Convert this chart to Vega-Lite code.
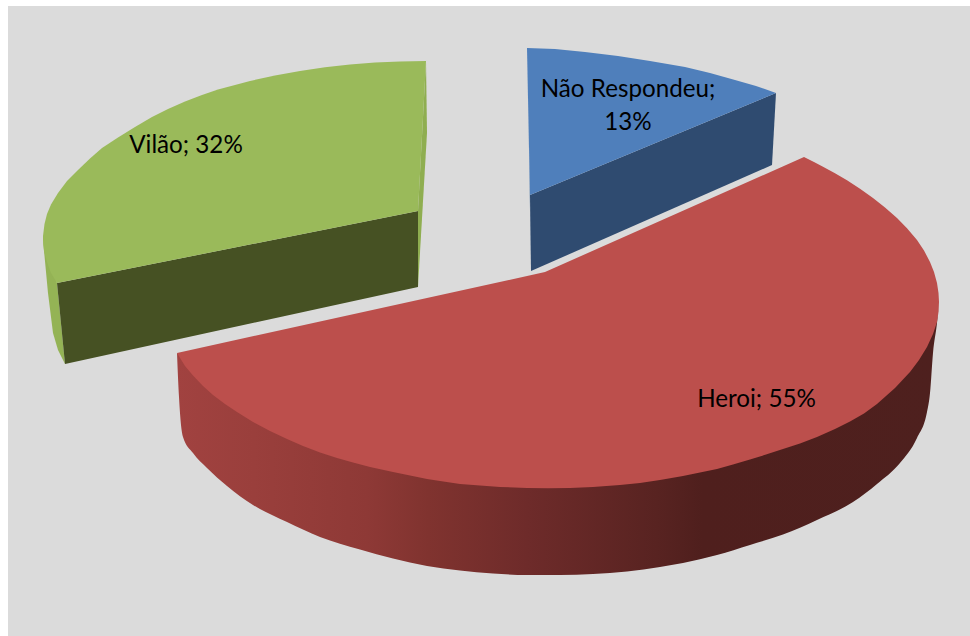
{"$schema":"https://vega.github.io/schema/vega-lite/v6.json","width":970,"height":636,"padding":0,"autosize":{"type":"none"},"background":"#ffffff","config":{"view":{"stroke":null}},
"datasets":{
"pano":[{"x0":8,"x1":970,"y0":6,"y1":636}],
"lateral":[{"x":177,"y":353,"y2":353},{"x":179,"y":354,"y2":397},{"x":183,"y":357,"y2":437},{"x":193,"y":362,"y2":453},{"x":207,"y":375,"y2":468},{"x":227,"y":395,"y2":486},{"x":253,"y":412,"y2":505},{"x":287,"y":430,"y2":522},{"x":320,"y":445,"y2":537},{"x":360,"y":455,"y2":549.5},{"x":393,"y":465,"y2":558.5},{"x":427,"y":472,"y2":566},{"x":460,"y":477,"y2":570.5},{"x":493,"y":480,"y2":573.5},{"x":527,"y":481,"y2":575},{"x":560,"y":481,"y2":575},{"x":593,"y":480,"y2":574},{"x":627,"y":478,"y2":571.5},{"x":660,"y":473,"y2":567},{"x":683,"y":470,"y2":563},{"x":717,"y":463,"y2":555},{"x":750,"y":453,"y2":545},{"x":783,"y":443,"y2":534.5},{"x":817,"y":431,"y2":520},{"x":853,"y":415,"y2":502},{"x":877,"y":398,"y2":484},{"x":900,"y":375,"y2":463},{"x":917,"y":350,"y2":438},{"x":927,"y":335,"y2":412},{"x":930,"y":330,"y2":393},{"x":933,"y":325,"y2":353},{"x":937,"y":318,"y2":323},{"x":939,"y":302,"y2":302}],
"faces":[
{"p":"g_side","o":1,"x":43,"y":240},{"p":"g_side","o":2,"x":57,"y":283},{"p":"g_side","o":3,"x":65,"y":364},{"p":"g_side","o":4,"x":58,"y":350},{"p":"g_side","o":5,"x":53,"y":333},{"p":"g_side","o":6,"x":48,"y":293},
{"p":"g_back","o":1,"x":426,"y":61},{"p":"g_back","o":2,"x":427,"y":133},{"p":"g_back","o":3,"x":418,"y":287},{"p":"g_back","o":4,"x":418,"y":211},
{"p":"g_cut","o":1,"x":57,"y":283},{"p":"g_cut","o":2,"x":418,"y":211},{"p":"g_cut","o":3,"x":418,"y":287},{"p":"g_cut","o":4,"x":65,"y":364},
{"p":"g_top","o":1,"x":426,"y":61},{"p":"g_top","o":2,"x":400,"y":61.4},{"p":"g_top","o":3,"x":375,"y":62.6},{"p":"g_top","o":4,"x":350,"y":64.5},{"p":"g_top","o":5,"x":325,"y":67.3},{"p":"g_top","o":6,"x":300,"y":71},{"p":"g_top","o":7,"x":275,"y":75.5},{"p":"g_top","o":8,"x":250,"y":81},{"p":"g_top","o":9,"x":235,"y":85},{"p":"g_top","o":10,"x":218,"y":89.6},{"p":"g_top","o":11,"x":202,"y":95},{"p":"g_top","o":12,"x":185,"y":101.5},{"p":"g_top","o":13,"x":168,"y":109},{"p":"g_top","o":14,"x":152,"y":117},{"p":"g_top","o":15,"x":135,"y":127},{"p":"g_top","o":16,"x":118,"y":137.5},{"p":"g_top","o":17,"x":102,"y":148},{"p":"g_top","o":18,"x":90,"y":158.5},{"p":"g_top","o":19,"x":78,"y":170},{"p":"g_top","o":20,"x":67,"y":181},{"p":"g_top","o":21,"x":58,"y":193},{"p":"g_top","o":22,"x":51,"y":204.5},{"p":"g_top","o":23,"x":47,"y":214},{"p":"g_top","o":24,"x":44.5,"y":224},{"p":"g_top","o":25,"x":43,"y":236},{"p":"g_top","o":26,"x":43,"y":241},{"p":"g_top","o":27,"x":44,"y":251},{"p":"g_top","o":28,"x":47,"y":262},{"p":"g_top","o":29,"x":51,"y":273},{"p":"g_top","o":30,"x":57,"y":283},{"p":"g_top","o":31,"x":418,"y":211},
{"p":"b_side","o":1,"x":527,"y":48},{"p":"b_side","o":2,"x":530,"y":195},{"p":"b_side","o":3,"x":531,"y":271},{"p":"b_side","o":4,"x":529,"y":150},
{"p":"b_cut","o":1,"x":776,"y":93},{"p":"b_cut","o":2,"x":530,"y":195},{"p":"b_cut","o":3,"x":531,"y":271},{"p":"b_cut","o":4,"x":772,"y":165},
{"p":"b_top","o":1,"x":527,"y":48},{"p":"b_top","o":2,"x":555,"y":49},{"p":"b_top","o":3,"x":585,"y":52},{"p":"b_top","o":4,"x":618,"y":56},{"p":"b_top","o":5,"x":650,"y":61},{"p":"b_top","o":6,"x":685,"y":67},{"p":"b_top","o":7,"x":710,"y":73},{"p":"b_top","o":8,"x":735,"y":80},{"p":"b_top","o":9,"x":756,"y":86},{"p":"b_top","o":10,"x":776,"y":93},{"p":"b_top","o":11,"x":530,"y":195},
{"p":"r_top","o":1,"x":177,"y":353},{"p":"r_top","o":2,"x":545,"y":272},{"p":"r_top","o":3,"x":804,"y":157},{"p":"r_top","o":4,"x":814,"y":162},{"p":"r_top","o":5,"x":823,"y":166.8},{"p":"r_top","o":6,"x":835,"y":173.3},{"p":"r_top","o":7,"x":847,"y":180.2},{"p":"r_top","o":8,"x":860,"y":188.8},{"p":"r_top","o":9,"x":873,"y":198},{"p":"r_top","o":10,"x":885,"y":207.6},{"p":"r_top","o":11,"x":897,"y":218},{"p":"r_top","o":12,"x":907,"y":228.3},{"p":"r_top","o":13,"x":917,"y":240},{"p":"r_top","o":14,"x":924,"y":250.5},{"p":"r_top","o":15,"x":930,"y":262},{"p":"r_top","o":16,"x":934,"y":272},{"p":"r_top","o":17,"x":937,"y":283},{"p":"r_top","o":18,"x":938.5,"y":293},{"p":"r_top","o":19,"x":939,"y":302},{"p":"r_top","o":20,"x":938.5,"y":312},{"p":"r_top","o":21,"x":937,"y":322},{"p":"r_top","o":22,"x":933,"y":334},{"p":"r_top","o":23,"x":927,"y":347},{"p":"r_top","o":24,"x":919,"y":360},{"p":"r_top","o":25,"x":910,"y":372},{"p":"r_top","o":26,"x":895,"y":388},{"p":"r_top","o":27,"x":877,"y":404},{"p":"r_top","o":28,"x":864,"y":413.5},{"p":"r_top","o":29,"x":850,"y":421.5},{"p":"r_top","o":30,"x":835,"y":429},{"p":"r_top","o":31,"x":817,"y":437},{"p":"r_top","o":32,"x":800,"y":443.5},{"p":"r_top","o":33,"x":783,"y":449},{"p":"r_top","o":34,"x":766,"y":454.5},{"p":"r_top","o":35,"x":750,"y":459.5},{"p":"r_top","o":36,"x":733,"y":464.5},{"p":"r_top","o":37,"x":717,"y":469},{"p":"r_top","o":38,"x":700,"y":472.5},{"p":"r_top","o":39,"x":683,"y":476},{"p":"r_top","o":40,"x":660,"y":480},{"p":"r_top","o":41,"x":640,"y":483},{"p":"r_top","o":42,"x":620,"y":485},{"p":"r_top","o":43,"x":593,"y":487},{"p":"r_top","o":44,"x":570,"y":488},{"p":"r_top","o":45,"x":548,"y":488.3},{"p":"r_top","o":46,"x":527,"y":488},{"p":"r_top","o":47,"x":500,"y":487},{"p":"r_top","o":48,"x":480,"y":485.5},{"p":"r_top","o":49,"x":460,"y":484},{"p":"r_top","o":50,"x":440,"y":481},{"p":"r_top","o":51,"x":427,"y":479},{"p":"r_top","o":52,"x":410,"y":475.5},{"p":"r_top","o":53,"x":393,"y":472},{"p":"r_top","o":54,"x":370,"y":467},{"p":"r_top","o":55,"x":353,"y":462.5},{"p":"r_top","o":56,"x":337,"y":458},{"p":"r_top","o":57,"x":320,"y":452.5},{"p":"r_top","o":58,"x":303,"y":446},{"p":"r_top","o":59,"x":287,"y":439},{"p":"r_top","o":60,"x":270,"y":431},{"p":"r_top","o":61,"x":253,"y":422},{"p":"r_top","o":62,"x":237,"y":412},{"p":"r_top","o":63,"x":225,"y":404},{"p":"r_top","o":64,"x":213,"y":395},{"p":"r_top","o":65,"x":203,"y":386},{"p":"r_top","o":66,"x":193,"y":375.5},{"p":"r_top","o":67,"x":185,"y":366}
],
"rotulos":[{"rotulo":"Vilão; 32%","x":186,"y":153},{"rotulo":"Não Respondeu;","x":628,"y":97},{"rotulo":"13%","x":628,"y":130},{"rotulo":"Heroi; 55%","x":756.5,"y":407}]
},
"layer":[
{"data":{"name":"pano"},"mark":{"type":"rect","fill":"#dbdbdb"},"encoding":{"x":{"field":"x0","type":"quantitative","scale":{"domain":[0,970]},"axis":null},"x2":{"field":"x1"},"y":{"field":"y0","type":"quantitative","scale":{"domain":[636,0]},"axis":null},"y2":{"field":"y1"}}},
{"data":{"name":"lateral"},"mark":{"type":"area","interpolate":"monotone","color":{"gradient":"linear","x1":0,"y1":0,"x2":1,"y2":0,"stops":[{"offset":0,"color":"#a14240"},{"offset":0.1,"color":"#9a3f3c"},{"offset":0.25,"color":"#8e3936"},{"offset":0.33,"color":"#80332f"},{"offset":0.46,"color":"#6e2b2a"},{"offset":0.63,"color":"#582321"},{"offset":0.69,"color":"#4f1f1d"},{"offset":1,"color":"#4e201e"}]}},"encoding":{"x":{"field":"x","type":"quantitative","scale":{"domain":[0,970]},"axis":null},"y":{"field":"y","type":"quantitative","scale":{"domain":[636,0]},"axis":null},"y2":{"field":"y2"}}},
{"data":{"name":"faces"},"mark":{"type":"line","filled":true,"strokeWidth":0},"encoding":{"x":{"field":"x","type":"quantitative","scale":{"domain":[0,970]},"axis":null},"y":{"field":"y","type":"quantitative","scale":{"domain":[636,0]},"axis":null},"order":{"field":"o","type":"quantitative"},"detail":{"field":"p"},"color":{"field":"p","type":"nominal","legend":null,"scale":{"domain":["g_side","g_back","g_cut","g_top","b_side","b_cut","b_top","r_top"],"range":["#94b355","#8fae50","#465123","#9aba5a","#456f9f","#2f4b70","#4f7fbb","#bc4f4c"]}}}},
{"data":{"name":"rotulos"},"mark":{"type":"text","font":"Lato","fontSize":24.2,"align":"center","baseline":"alphabetic","fill":"#000000"},"encoding":{"x":{"field":"x","type":"quantitative","scale":{"domain":[0,970]},"axis":null},"y":{"field":"y","type":"quantitative","scale":{"domain":[636,0]},"axis":null},"text":{"field":"rotulo"}}}
]}
